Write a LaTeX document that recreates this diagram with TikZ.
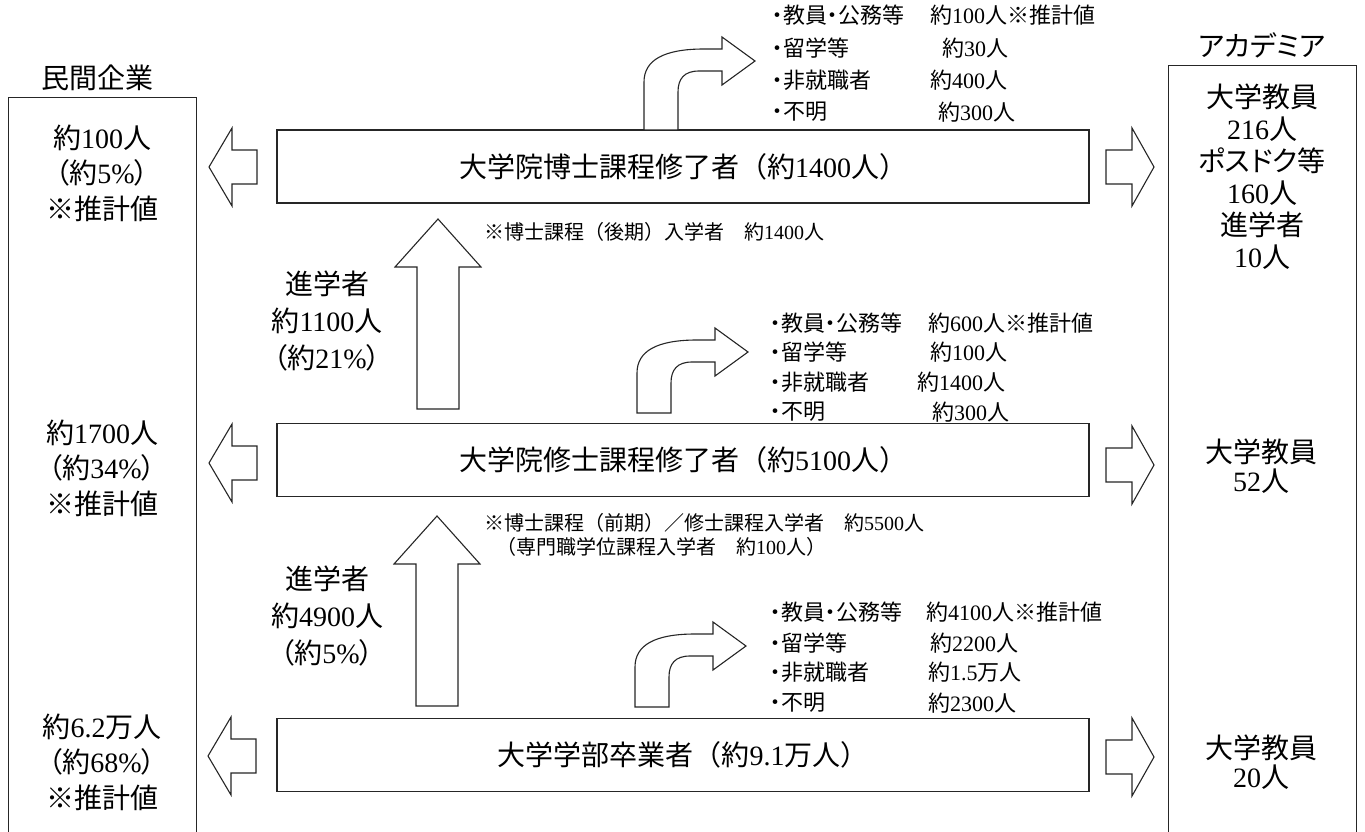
\documentclass[tikz,border=0pt]{standalone}
\usepackage{fontspec}
\setmainfont{Liberation Serif}
\newfontfamily\jp[RawFeature=+palt]{Noto Sans CJK JP}
\newfontfamily\jq{Noto Sans CJK JP}
\newcommand\J[1]{{\jp #1}}
\newcommand\Q[1]{{\jq #1}}
\begin{document}
\begin{tikzpicture}[x=1pt,y=-1pt,line join=miter]
\useasboundingbox (0,0) rectangle (1365,832);
\tikzset{
 ln/.style={draw=black!85, line width=1.1pt},
 blk/.style={ln, fill=white},
 mainbox/.style={ln, minimum width=812pt, minimum height=73pt, inner sep=0pt, font=\fontsize{28}{34}\selectfont},
 big/.style={font=\fontsize{28}{35.5}\selectfont, align=center, inner sep=0pt},
 lst/.style={font=\fontsize{22}{26}\selectfont, anchor=west, inner sep=0pt},
 note/.style={font=\fontsize{20}{24}\selectfont, anchor=west, inner sep=0pt},
 pics/larr/.style={code={\path[blk] (0,0) -- (23,-39) -- (23,-17) -- (48,-17) -- (48,17) -- (23,17) -- (23,39) -- cycle;}},
 pics/rarr/.style={code={\path[blk] (0,0) -- (-22,-39) -- (-22,-17) -- (-48,-17) -- (-48,17) -- (-22,17) -- (-22,39) -- cycle;}},
 pics/uarr/.style={code={\path[blk] (0,0) -- (43,48) -- (21,48) -- (21,190) -- (-21,190) -- (-21,48) -- (-43,48) -- cycle;}},
 pics/carr/.style={code={\path[blk] (0,#1) -- (0,-40) .. controls (0,-62) and (20,-73) .. (60,-73) -- (78,-73) -- (78,-85) -- (111,-61) -- (78,-37) -- (78,-51) -- (55,-51) .. controls (40,-51) and (34,-43) .. (34,-30) -- (34,#1) -- cycle;}},
}
% side boxes
\node[ln, minimum width=188pt, minimum height=780pt, anchor=north west, inner sep=0pt] (ind) at (8,97) {};
\node[ln, minimum width=188pt, minimum height=800pt, anchor=north west, inner sep=0pt] (aca) at (1168,65) {};
\node[big] (indt) at (97,78) {\J{民間企業}};
\node[big] (acat) at (1262,45) {\J{アカデミア}};
% main boxes
\node[mainbox] (phd) at (683,166.5) {\Q{大学院博士課程修了者（約}1400\Q{人）}};
\node[mainbox] (mas) at (683,460) {\Q{大学院修士課程修了者（約}5100\Q{人）}};
\node[mainbox] (bac) at (683,755) {\Q{大学学部卒業者（約}9.1\Q{万人）}};
% left / right block arrows
\pic (la1) at (209,167) {larr};
\pic (la2) at (209,463) {larr};
\pic (la3) at (208,756) {larr};
\pic (ra1) at (1154,167) {rarr};
\pic (ra2) at (1154,465) {rarr};
\pic (ra3) at (1154,757) {rarr};
% up arrows
\pic (ua1) at (438,219) {uarr};
\pic (ua2) at (437,516) {uarr};
% curved arrows
\pic (ca1) at (644,122) {carr=8};
\pic (ca2) at (637,413) {carr=0};
\pic (ca3) at (635,707) {carr=0};
% left texts
\node[big] (i1) at (102,173) {\J{約}100\J{人}\\\J{（約}5\%\J{）}\\\J{※推計値}};
\node[big] (i2) at (102,468) {\J{約}1700\J{人}\\\J{（約}34\%\J{）}\\\J{※推計値}};
\node[big] (i3) at (102,762) {\J{約}6.2\J{万人}\\\J{（約}68\%\J{）}\\\J{※推計値}};
% right texts
\node[big, font=\fontsize{28}{32}\selectfont] (a1) at (1262,177) {\J{大学教員}\\216\J{人}\\\J{ポスドク等}\\160\J{人}\\\J{進学者}\\10\J{人}};
\node[big, font=\fontsize{28}{29}\selectfont] (a2) at (1261,466) {\J{大学教員}\\52\J{人}};
\node[big, font=\fontsize{28}{29}\selectfont] (a3) at (1261,762) {\J{大学教員}\\20\J{人}};
% advance labels
\node[big, font=\fontsize{28}{37}\selectfont] (s1) at (327,321) {\J{進学者}\\\J{約}1100\J{人}\\\J{（約}21\%\J{）}};
\node[big, font=\fontsize{28}{37}\selectfont] (s2) at (327,616) {\J{進学者}\\\J{約}4900\J{人}\\\J{（約}5\%\J{）}};
% notes
\node[note] (n1) at (484,232) {\Q{※博士課程（後期）入学者　約}1400\Q{人}};
\node[note] (n2) at (484,523) {\Q{※博士課程（前期）／修士課程入学者　約}5500\Q{人}};
\node[note] (n3) at (496,547) {\Q{（専門職学位課程入学者　約}100\Q{人）}};
% top list
\node[lst] (t1) at (772,15) {\J{・教員・公務等}};
\node[lst] (t2) at (772,48) {\J{・留学等}};
\node[lst] (t3) at (772,80) {\J{・非就職者}};
\node[lst] (t4) at (772,112) {\J{・不明}};
\node[lst] (tv1) at (930,15) {\J{約}100\J{人※推計値}};
\node[lst] (tv2) at (942,48) {\J{約}30\J{人}};
\node[lst] (tv3) at (930,80) {\J{約}400\J{人}};
\node[lst] (tv4) at (938,112) {\J{約}300\J{人}};
% middle list
\node[lst] (m1) at (770,323) {\J{・教員・公務等}};
\node[lst] (m2) at (770,352) {\J{・留学等}};
\node[lst] (m3) at (770,382) {\J{・非就職者}};
\node[lst] (m4) at (770,412) {\J{・不明}};
\node[lst] (mv1) at (928,323) {\J{約}600\J{人※推計値}};
\node[lst] (mv2) at (930,352) {\J{約}100\J{人}};
\node[lst] (mv3) at (917,382) {\J{約}1400\J{人}};
\node[lst] (mv4) at (932,412) {\J{約}300\J{人}};
% bottom list
\node[lst] (b1) at (770,612) {\J{・教員・公務等}};
\node[lst] (b2) at (770,643) {\J{・留学等}};
\node[lst] (b3) at (770,672) {\J{・非就職者}};
\node[lst] (b4) at (770,703) {\J{・不明}};
\node[lst] (bv1) at (926,612) {\J{約}4100\J{人※推計値}};
\node[lst] (bv2) at (930,643) {\J{約}2200\J{人}};
\node[lst] (bv3) at (928,672) {\J{約}1.5\J{万人}};
\node[lst] (bv4) at (928,703) {\J{約}2300\J{人}};
\end{tikzpicture}
\end{document}
